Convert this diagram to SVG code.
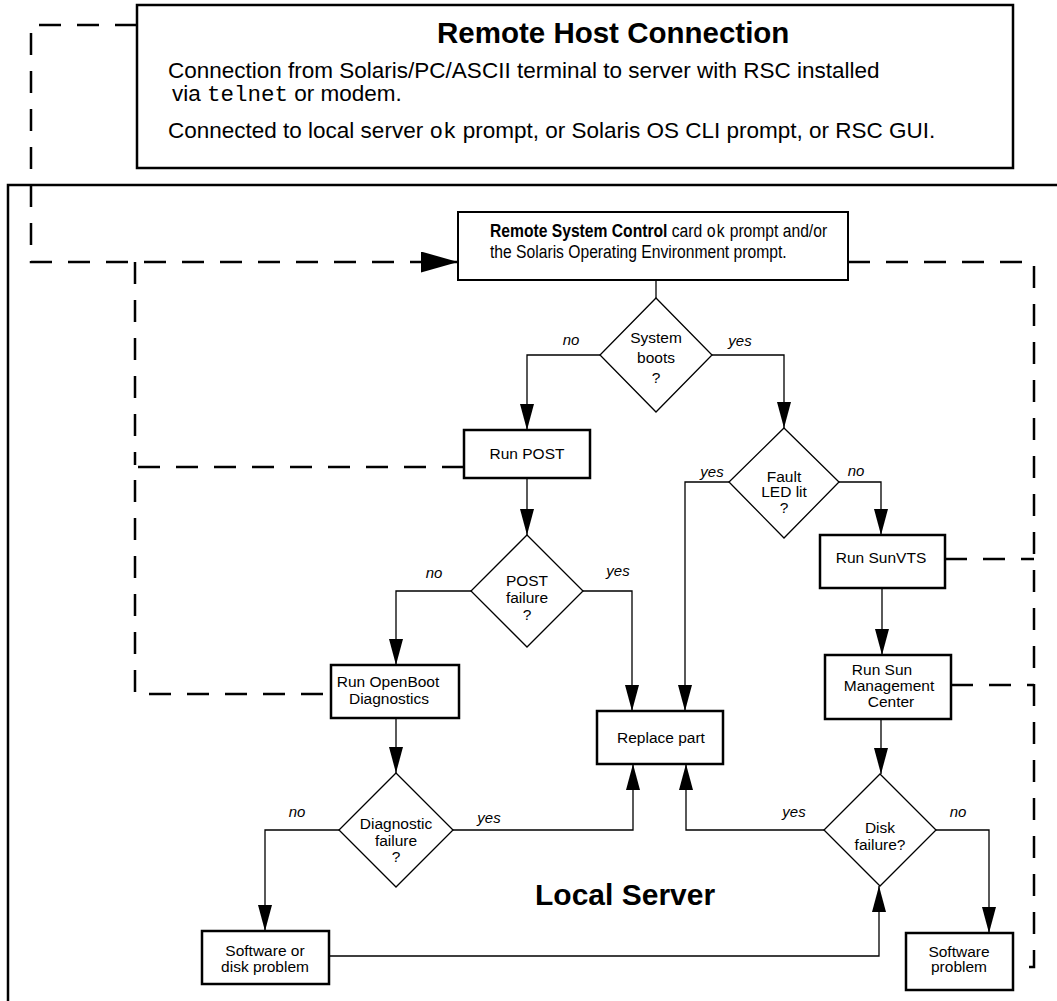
<svg xmlns="http://www.w3.org/2000/svg" width="1057" height="1001" viewBox="0 0 1057 1001">
<style>
text{font-family:"Liberation Sans",Arial,sans-serif;fill:#000}
.mono{font-family:"Liberation Mono","Courier New",monospace}
.box{fill:#fff;stroke:#000;stroke-width:2.5}
.dia{fill:#fff;stroke:#000;stroke-width:1.3}
.con{fill:none;stroke:#000;stroke-width:1.3}
.dash{fill:none;stroke:#000;stroke-width:2.5;stroke-dasharray:22 16}
.t{font-size:15.5px;text-anchor:middle}
.lbl{font-size:15px;font-style:italic;text-anchor:middle}
.body{font-size:22.5px}
</style>
<defs>
<marker id="ah" markerUnits="userSpaceOnUse" markerWidth="28" markerHeight="16" refX="26" refY="7" orient="auto"><path d="M0,0 L26,7 L0,14 z" fill="#000"/></marker>
<marker id="ahd" markerUnits="userSpaceOnUse" markerWidth="40" markerHeight="24" refX="37" refY="10.5" orient="auto"><path d="M0,0 L37,10.5 L0,21 z" fill="#000"/></marker>
</defs>
<rect width="1057" height="1001" fill="#fff"/>

<g id="remote-host">
<rect class="box" x="137" y="5" width="876" height="163"/>
<text x="437" y="43" style="font-size:29.5px;font-weight:bold">Remote Host Connection</text>
<text class="body" x="168" y="78">Connection from Solaris/PC/ASCII terminal to server with RSC installed</text>
<text class="body" x="172" y="101">via <tspan class="mono">telnet</tspan> or modem.</text>
<text class="body" x="168" y="138">Connected to local server <tspan class="mono">ok</tspan> prompt, or Solaris OS CLI prompt, or RSC GUI.</text>
</g>

<g id="local-server">
<path d="M1057 185 H8 V1001" fill="none" stroke="#000" stroke-width="2.5"/>
<text x="535" y="905" style="font-size:30px;font-weight:bold">Local Server</text>
</g>

<g id="connectors">
<path class="dash" d="M137 25 H31 V262 H458" marker-end="url(#ahd)"/>
<path class="dash" d="M135 262 V465"/>
<path class="dash" d="M464 467 H135 V694 H331"/>
<path class="dash" d="M848 262 H1034 V967 H1013"/>
<path class="dash" d="M945 559 H1034"/>
<path class="dash" d="M951 685 H1034"/>
<path class="con" d="M656 281 V298"/>
<path class="con" d="M600 355 H527 V430" marker-end="url(#ah)"/>
<path class="con" d="M712 355 H784 V428" marker-end="url(#ah)"/>
<path class="con" d="M527 478 V535" marker-end="url(#ah)"/>
<path class="con" d="M729 482 H685 V711" marker-end="url(#ah)"/>
<path class="con" d="M839 482 H881 V535" marker-end="url(#ah)"/>
<path class="con" d="M471 591 H396 V665" marker-end="url(#ah)"/>
<path class="con" d="M583 591 H632 V711" marker-end="url(#ah)"/>
<path class="con" d="M882 588 V655" marker-end="url(#ah)"/>
<path class="con" d="M396 718 V773" marker-end="url(#ah)"/>
<path class="con" d="M881 719 V774" marker-end="url(#ah)"/>
<path class="con" d="M339 830 H265 V931" marker-end="url(#ah)"/>
<path class="con" d="M453 830 H633 V764" marker-end="url(#ah)"/>
<path class="con" d="M824 830 H686 V764" marker-end="url(#ah)"/>
<path class="con" d="M936 830 H989 V933" marker-end="url(#ah)"/>
<path class="con" d="M329 956 H879 V886" marker-end="url(#ah)"/>
<text class="lbl" x="571" y="345">no</text>
<text class="lbl" x="740" y="346">yes</text>
<text class="lbl" x="712" y="477">yes</text>
<text class="lbl" x="856" y="476">no</text>
<text class="lbl" x="434" y="578">no</text>
<text class="lbl" x="618" y="576">yes</text>
<text class="lbl" x="297" y="817">no</text>
<text class="lbl" x="489" y="823">yes</text>
<text class="lbl" x="794" y="817">yes</text>
<text class="lbl" x="958" y="817">no</text>
</g>

<g id="rsc">
<rect x="458" y="212" width="390" height="68" fill="#fff" stroke="#000" stroke-width="2"/>
<g transform="translate(490 237) scale(0.87 1)">
<text x="0" y="0" style="font-size:18px"><tspan font-weight="bold">Remote System Control</tspan> card <tspan class="mono">ok</tspan> prompt and/or</text>
<text x="0" y="21" style="font-size:18px">the Solaris Operating Environment prompt.</text>
</g>
</g>

<g id="system-boots">
<polygon class="dia" points="656,298 712,355 656,412 600,355"/>
<text class="t" x="656" y="343">System</text>
<text class="t" x="656" y="363">boots</text>
<text class="t" x="656" y="383">?</text>
</g>

<g id="run-post">
<rect class="box" x="464" y="430" width="126" height="48"/>
<text class="t" x="527" y="459">Run POST</text>
</g>

<g id="fault-led">
<polygon class="dia" points="784,428 839,482 784,538 729,482"/>
<text class="t" x="784" y="482">Fault</text>
<text class="t" x="784" y="497">LED lit</text>
<text class="t" x="784" y="513">?</text>
</g>

<g id="post-failure">
<polygon class="dia" points="527,535 583,591 527,647 471,591"/>
<text class="t" x="527" y="586">POST</text>
<text class="t" x="527" y="603">failure</text>
<text class="t" x="527" y="620">?</text>
</g>

<g id="run-sunvts">
<rect class="box" x="820" y="535" width="125" height="53"/>
<text class="t" x="881" y="563">Run SunVTS</text>
</g>

<g id="run-openboot">
<rect class="box" x="331" y="665" width="128" height="53"/>
<text class="t" x="388" y="687">Run OpenBoot</text>
<text class="t" x="389" y="704">Diagnostics</text>
</g>

<g id="run-smc">
<rect class="box" x="825" y="655" width="126" height="64"/>
<text class="t" x="882" y="675">Run Sun</text>
<text class="t" x="889" y="691">Management</text>
<text class="t" x="891" y="707">Center</text>
</g>

<g id="replace-part">
<rect class="box" x="597" y="711" width="126" height="53"/>
<text class="t" x="661" y="743">Replace part</text>
</g>

<g id="diagnostic-failure">
<polygon class="dia" points="396,773 453,830 396,887 339,830"/>
<text class="t" x="396" y="829">Diagnostic</text>
<text class="t" x="396" y="846">failure</text>
<text class="t" x="396" y="862">?</text>
</g>

<g id="disk-failure">
<polygon class="dia" points="880,774 936,830 880,886 824,830"/>
<text class="t" x="880" y="833">Disk</text>
<text class="t" x="880" y="850">failure?</text>
</g>

<g id="sw-disk-problem">
<rect class="box" x="202" y="931" width="127" height="53"/>
<text class="t" x="265" y="956">Software or</text>
<text class="t" x="265" y="972">disk problem</text>
</g>

<g id="sw-problem">
<rect class="box" x="906" y="933" width="107" height="57"/>
<text class="t" x="959" y="957">Software</text>
<text class="t" x="959" y="972">problem</text>
</g>
</svg>
